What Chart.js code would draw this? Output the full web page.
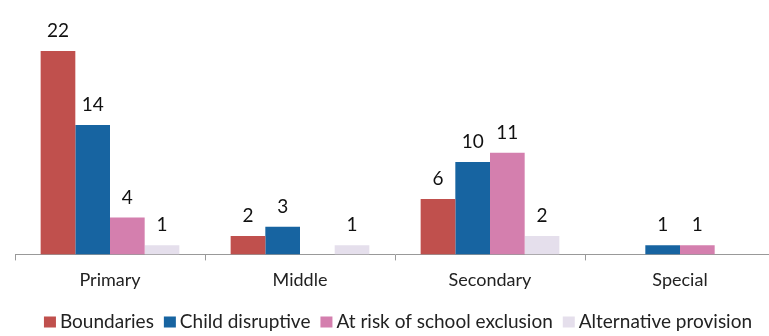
<!DOCTYPE html>
<html><head><meta charset="utf-8">
<script src="https://cdn.jsdelivr.net/npm/chart.js@4"></script>
<style>
html,body{margin:0;padding:0;background:#fff;overflow:hidden;width:769px;height:336px;}
#wrap{width:796px;height:336px;position:relative;}
</style></head><body>
<div id="wrap"><canvas id="c"></canvas></div>
<script>
const categories = ['Primary', 'Middle', 'Secondary', 'Special'];
const boundaries = [22, 2, 6, null];
const childDisruptive = [14, 3, 10, 1];
const atRisk = [4, null, 11, 1];
const alternative = [1, 1, 2, null];
const seriesNames = ['Boundaries', 'Child disruptive', 'At risk of school exclusion', 'Alternative provision'];
const colors = ['#C0504D', '#1764A1', '#D47FAE', '#E5DFEC'];

const FONT = 'Lato, "Open Sans", sans-serif';

const labelPlugin = {
  id: 'barLabels',
  afterDatasetsDraw(chart) {
    const ctx = chart.ctx;
    ctx.save();
    ctx.font = '19px ' + FONT;
    ctx.fillStyle = '#111';
    ctx.textAlign = 'center';
    ctx.textBaseline = 'middle';
    chart.data.datasets.forEach((ds, di) => {
      const meta = chart.getDatasetMeta(di);
      meta.data.forEach((el, i) => {
        const v = ds.data[i];
        if (v === null || v === undefined) return;
        ctx.fillText(String(v), el.x, el.y - 20);
      });
    });
    ctx.restore();
  }
};

// Simple bottom legend drawn from the datasets (box, small gap, label)
const legendPlugin = {
  id: 'bottomLegend',
  afterDraw(chart) {
    const ctx = chart.ctx;
    const box = 12, gap = 4, spacing = 10;
    ctx.save();
    ctx.font = '19px ' + FONT;
    const items = chart.data.datasets.map(ds => ({
      text: ds.label, color: ds.backgroundColor, w: ctx.measureText(ds.label).width
    }));
    const total = items.reduce((s, it) => s + box + gap + it.w, 0) + spacing * (items.length - 1);
    let x = chart.width / 2 - total / 2;
    const cy = 322;
    ctx.textBaseline = 'middle';
    ctx.textAlign = 'left';
    items.forEach(it => {
      ctx.fillStyle = it.color;
      ctx.fillRect(x, cy - box / 2 + 0.5, box, box - 1);
      ctx.fillStyle = '#222';
      ctx.fillText(it.text, x + box + gap, cy);
      x += box + gap + it.w + spacing;
    });
    ctx.restore();
  }
};

const sets = [boundaries, childDisruptive, atRisk, alternative];
new Chart(document.getElementById('c'), {
  type: 'bar',
  data: {
    labels: categories,
    datasets: sets.map((d, i) => ({
      label: seriesNames[i],
      data: d,
      backgroundColor: colors[i],
      borderWidth: 0,
      categoryPercentage: 0.73,
      barPercentage: 1.0
    }))
  },
  options: {
    responsive: true,
    maintainAspectRatio: false,
    animation: false,
    layout: { padding: { left: 15, right: 21, top: 0, bottom: 36 } },
    scales: {
      y: { display: false, min: 0, max: 27.5 },
      x: {
        border: { display: true, color: '#999', width: 1 },
        grid: { display: true, drawOnChartArea: false, drawTicks: true, tickLength: 6, color: '#999', offset: true },
        ticks: { color: '#222', font: { family: FONT, size: 18 }, padding: 9 }
      }
    },
    plugins: {
      tooltip: { enabled: false },
      legend: { display: false }
    }
  },
  plugins: [labelPlugin, legendPlugin]
});
</script>
</body></html>
